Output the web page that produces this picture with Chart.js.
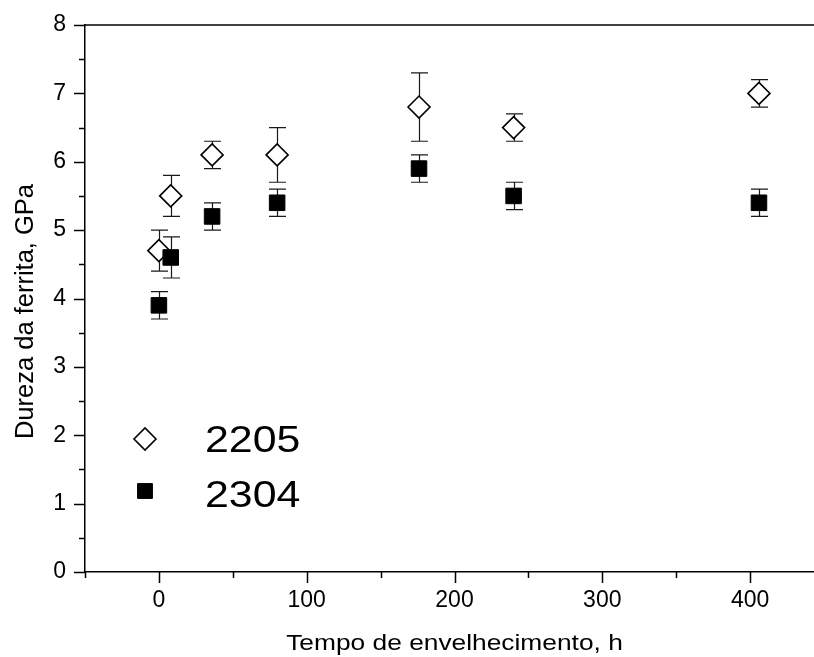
<!DOCTYPE html>
<html>
<head>
<meta charset="utf-8">
<script src="https://cdn.jsdelivr.net/npm/chart.js@4/dist/chart.umd.min.js"></script>
<style>
  html, body { margin: 0; padding: 0; background: #fff; width: 814px; height: 657px; overflow: hidden; }
  #wrap { width: 830px; height: 657px; }
</style>
</head>
<body>
<div id="wrap"><canvas id="c" width="830" height="657"></canvas></div>
<script>
// ---- data ----
const hours = [0, 8, 36, 80, 176, 240, 406];
const dureza2205 = [4.7, 5.5, 6.1, 6.1, 6.8, 6.5, 7.0];
const erro2205 = [0.3, 0.3, 0.2, 0.4, 0.5, 0.2, 0.2];
const dureza2304 = [3.9, 4.6, 5.2, 5.4, 5.9, 5.5, 5.4];
const erro2304 = [0.2, 0.3, 0.2, 0.2, 0.2, 0.2, 0.2];
const seriesNames = ['2205', '2304'];
const xTickValues = [0, 100, 200, 300, 400];
const yTickValues = [0, 1, 2, 3, 4, 5, 6, 7, 8];
const xMinorStep = 50;
const yMinorStep = 0.5;
const xTitle = 'Tempo de envelhecimento, h';
const yTitle = 'Dureza da ferrita, GPa';

const FONT = '"Liberation Sans", Arial, sans-serif';

function pts(xs, ys) { return xs.map((x, i) => ({ x: x, y: ys[i] })); }

const errorBars = {
  id: 'errorBars',
  beforeDatasetsDraw(chart) {
    const ctx = chart.ctx, xs = chart.scales.x, ys = chart.scales.y;
    ctx.save();
    ctx.strokeStyle = '#1a1a1a';
    ctx.lineWidth = 1.2;
    chart.data.datasets.forEach(ds => {
      ds.data.forEach((p, i) => {
        const e = ds.errors[i];
        const px = Math.round(xs.getPixelForValue(p.x)) + 0.5;
        const top = ys.getPixelForValue(p.y + e);
        const bot = ys.getPixelForValue(p.y - e);
        ctx.beginPath();
        ctx.moveTo(px, top); ctx.lineTo(px, bot);
        ctx.moveTo(px - 8.5, top); ctx.lineTo(px + 8.5, top);
        ctx.moveTo(px - 8.5, bot); ctx.lineTo(px + 8.5, bot);
        ctx.stroke();
      });
    });
    ctx.restore();
  }
};

const decor = {
  id: 'decor',
  afterDraw(chart) {
    const ctx = chart.ctx, xs = chart.scales.x, ys = chart.scales.y, a = chart.chartArea;
    ctx.save();
    ctx.strokeStyle = '#000';
    ctx.lineWidth = 1.5;
    // top border
    ctx.beginPath();
    ctx.moveTo(a.left, a.top); ctx.lineTo(a.right + 2, a.top);
    ctx.stroke();
    // x tick marks
    ctx.beginPath();
    for (let v = xs.min; v <= xs.max + 1e-9; v += xMinorStep) {
      const px = Math.round(xs.getPixelForValue(v)) + 0.5;
      const len = (Math.abs(v % 100) < 1e-9) ? 11 : 6;
      ctx.moveTo(px, a.bottom); ctx.lineTo(px, a.bottom + len);
    }
    // y tick marks
    for (let v = ys.min; v <= ys.max + 1e-9; v += yMinorStep) {
      const py = Math.round(ys.getPixelForValue(v)) + 0.5;
      const len = (Math.abs(v - Math.round(v)) < 1e-9) ? 11 : 6;
      ctx.moveTo(a.left - len, py); ctx.lineTo(a.left, py);
    }
    ctx.stroke();

    // axis titles
    ctx.fillStyle = '#000';
    ctx.textAlign = 'center';
    ctx.textBaseline = 'alphabetic';
    ctx.save();
    ctx.translate((a.left + a.right) / 2, 650);
    ctx.scale(1.17, 1);
    ctx.font = '22.5px ' + FONT;
    ctx.fillText(xTitle, 0, 0);
    ctx.restore();
    ctx.save();
    ctx.font = '25.5px ' + FONT;
    ctx.translate(33, (a.top + a.bottom) / 2 + 13);
    ctx.rotate(-Math.PI / 2);
    ctx.fillText(yTitle, 0, 0);
    ctx.restore();

    // legend
    const rows = [
      { ds: chart.data.datasets[0], cy: 439, base: 451.5 },
      { ds: chart.data.datasets[1], cy: 491, base: 506.5 }
    ];
    rows.forEach(r => {
      ctx.save();
      ctx.fillStyle = r.ds.pointBackgroundColor;
      ctx.strokeStyle = r.ds.pointBorderColor;
      ctx.lineWidth = r.ds.pointBorderWidth;
      Chart.helpers.drawPoint(ctx, {
        pointStyle: r.ds.pointStyle,
        radius: r.ds.legendRadius,
        borderWidth: r.ds.pointBorderWidth,
        rotation: 0
      }, 145, r.cy);
      ctx.restore();
      ctx.save();
      ctx.fillStyle = '#000';
      ctx.font = '36px ' + FONT;
      ctx.textAlign = 'left';
      ctx.textBaseline = 'alphabetic';
      ctx.translate(205, r.base);
      ctx.scale(1.19, 1);
      ctx.fillText(r.ds.label, 0, 0);
      ctx.restore();
    });
    ctx.restore();
  }
};

new Chart(document.getElementById('c'), {
  type: 'scatter',
  data: {
    datasets: [
      {
        label: seriesNames[0],
        data: pts(hours, dureza2205),
        errors: erro2205,
        pointStyle: 'rectRot',
        pointRadius: 11,
        legendRadius: 11,
        pointBackgroundColor: '#ffffff',
        pointBorderColor: '#000000',
        pointBorderWidth: 1.6,
        showLine: false,
        order: 2
      },
      {
        label: seriesNames[1],
        data: pts(hours, dureza2304),
        errors: erro2304,
        pointStyle: 'rect',
        pointRadius: 11,
        legendRadius: 10.5,
        pointBackgroundColor: '#000000',
        pointBorderColor: '#000000',
        pointBorderWidth: 1,
        showLine: false,
        order: 1
      }
    ]
  },
  options: {
    responsive: false,
    animation: false,
    devicePixelRatio: 1,
    layout: { padding: { top: 25, right: 6, left: 0, bottom: 0 }, autoPadding: false },
    plugins: { legend: { display: false }, tooltip: { enabled: false } },
    scales: {
      x: {
        type: 'linear',
        min: -50,
        max: 450,
        afterBuildTicks: s => { s.ticks = xTickValues.map(v => ({ value: v })); },
        afterFit: s => { s.height = 85; s.paddingLeft = 0; s.paddingRight = 0; },
        grid: { display: false },
        border: { display: true, color: '#000', width: 1.5 },
        ticks: { color: '#000', font: { family: FONT, size: 23 }, padding: 7, maxRotation: 0, autoSkip: false }
      },
      y: {
        type: 'linear',
        min: 0,
        max: 8,
        afterBuildTicks: s => { s.ticks = yTickValues.map(v => ({ value: v })); },
        afterFit: s => { s.width = 85; s.paddingTop = 0; s.paddingBottom = 0; },
        grid: { display: false },
        border: { display: true, color: '#000', width: 1.5 },
        ticks: { color: '#000', font: { family: FONT, size: 23 }, padding: 11, autoSkip: false }
      }
    }
  },
  plugins: [errorBars, decor]
});
</script>
</body>
</html>
